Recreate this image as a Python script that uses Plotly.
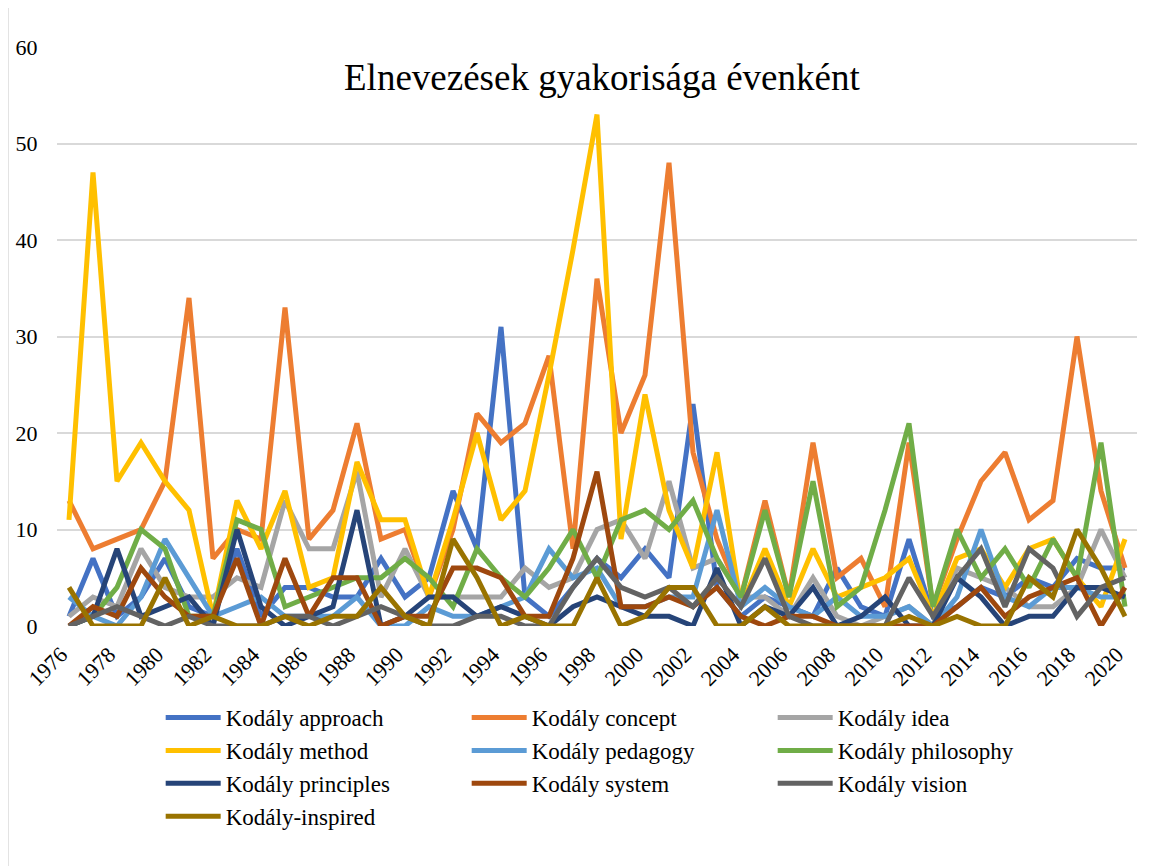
import plotly.graph_objects as go

years = list(range(1976, 2021))
year_ticks = list(range(1976, 2021, 2))

approach = [1, 7, 1, 3, 7, 2, 1, 8, 1, 4, 4, 3, 3, 7, 3, 5, 14, 8, 31, 3, 1, 4, 7, 5, 8,
            5, 23, 4, 1, 3, 2, 1, 6, 2, 1, 9, 1, 2, 4, 3, 5, 4, 7, 6, 6]
concept = [13, 8, 9, 10, 15, 34, 7, 10, 9, 33, 9, 12, 21, 9, 10, 3, 10, 22, 19, 21, 28, 8, 36, 20, 26,
           48, 18, 9, 3, 13, 3, 19, 5, 7, 2, 19, 2, 9, 15, 18, 11, 13, 30, 14, 6]
idea = [1, 3, 2, 8, 4, 3, 3, 5, 4, 13, 8, 8, 16, 3, 8, 3, 3, 3, 3, 6, 4, 5, 10, 11, 7,
        15, 6, 7, 3, 3, 1, 5, 1, 0, 1, 2, 0, 6, 5, 4, 2, 2, 4, 10, 5]
method = [11, 47, 15, 19, 15, 12, 1, 13, 8, 14, 4, 5, 17, 11, 11, 3, 11, 20, 11, 14, 26, 39, 53, 9, 24,
          12, 6, 18, 2, 8, 2, 8, 3, 4, 5, 7, 1, 7, 8, 4, 8, 9, 5, 2, 9]
pedagogy = [3, 1, 0, 3, 9, 5, 1, 2, 3, 1, 1, 1, 3, 0, 0, 2, 1, 1, 2, 3, 8, 5, 6, 2, 2,
            3, 3, 12, 2, 4, 2, 1, 3, 1, 1, 2, 0, 3, 10, 3, 2, 4, 4, 3, 3]
philosophy = [0, 1, 4, 10, 8, 1, 1, 11, 10, 2, 3, 4, 5, 5, 7, 5, 2, 8, 5, 3, 6, 10, 5, 11, 12,
              10, 13, 7, 3, 12, 3, 15, 2, 4, 12, 21, 2, 10, 5, 8, 4, 9, 5, 19, 2]
principles = [0, 1, 8, 1, 2, 3, 0, 10, 2, 0, 1, 2, 12, 0, 1, 3, 3, 1, 2, 1, 0, 2, 3, 2, 1,
              1, 0, 6, 0, 2, 1, 4, 0, 1, 3, 0, 0, 5, 3, 0, 1, 1, 4, 4, 3]
system = [0, 2, 1, 6, 3, 1, 1, 7, 0, 7, 1, 5, 5, 0, 1, 1, 6, 6, 5, 1, 1, 7, 16, 2, 2,
          3, 2, 4, 1, 0, 1, 1, 0, 0, 0, 0, 0, 2, 4, 1, 3, 4, 5, 0, 4]
vision = [0, 1, 2, 1, 0, 1, 0, 0, 0, 1, 1, 0, 1, 2, 1, 0, 0, 1, 1, 0, 0, 4, 7, 4, 3,
          4, 2, 5, 2, 7, 1, 0, 0, 0, 0, 5, 1, 5, 8, 2, 8, 6, 1, 4, 5]
inspired = [4, 0, 0, 0, 5, 0, 1, 0, 0, 1, 0, 1, 1, 4, 1, 0, 9, 5, 0, 1, 0, 0, 5, 0, 1,
            4, 4, 0, 0, 2, 0, 0, 0, 0, 0, 1, 0, 1, 0, 0, 5, 3, 10, 6, 1]

series = [
    ("Kodály approach", approach, "#4472C4"),
    ("Kodály concept", concept, "#ED7D31"),
    ("Kodály idea", idea, "#A5A5A5"),
    ("Kodály method", method, "#FFC000"),
    ("Kodály pedagogy", pedagogy, "#5B9BD5"),
    ("Kodály philosophy", philosophy, "#70AD47"),
    ("Kodály principles", principles, "#264478"),
    ("Kodály system", system, "#9E480E"),
    ("Kodály vision", vision, "#636363"),
    ("Kodály-inspired", inspired, "#997300"),
]

FONT = "Liberation Serif"

fig = go.Figure()
for name, vals, color in series:
    fig.add_trace(go.Scatter(x=years, y=vals, name=name, mode="lines",
                             line=dict(color=color, width=5)))

# chart area border (Excel style)
fig.add_shape(type="rect", xref="paper", yref="paper",
              x0=-0.0454, x1=1.02, y0=-0.42, y1=1.0725,
              line=dict(color="#D9D9D9", width=1.5), layer="below")

fig.add_annotation(text="Elnevezések gyakorisága évenként", xref="paper", yref="paper",
                   x=0.5046, y=0.948, xanchor="center", yanchor="middle", showarrow=False,
                   font=dict(family=FONT, size=37, color="black"))

# margins compensate for the 8px page margin of the html body
fig.update_layout(
    width=1155, height=866,
    plot_bgcolor="white", paper_bgcolor="white",
    margin=dict(l=49, r=26, t=39, b=248),
    font=dict(family=FONT, size=22, color="#000000"),
    showlegend=True,
    legend=dict(orientation="h", x=0.096, y=-0.121, xanchor="left", yanchor="top",
                entrywidth=236, entrywidthmode="pixels", itemwidth=55,
                font=dict(family=FONT, size=23), tracegroupgap=0),
)
fig.update_xaxes(range=[1975.5, 2020.5], tickvals=year_ticks, tickangle=-45,
                 showgrid=False, zeroline=False, showline=False, automargin=False,
                 ticks="outside", ticklen=6, tickcolor="rgba(0,0,0,0)",
                 ticklabelshift=-8,
                 tickfont=dict(family=FONT, size=22))
fig.update_yaxes(range=[0, 60], dtick=10, showgrid=True, gridcolor="#D9D9D9", gridwidth=1.5,
                 zeroline=False, showline=False, automargin=False,
                 ticks="outside", ticklen=14, tickcolor="rgba(0,0,0,0)",
                 tickfont=dict(family=FONT, size=22))

fig.write_html("out.html")
